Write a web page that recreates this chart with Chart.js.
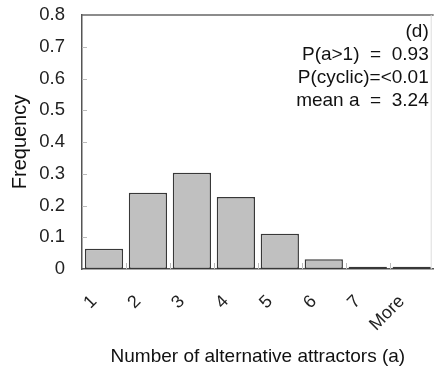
<!DOCTYPE html>
<html>
<head>
<meta charset="utf-8">
<script src="https://cdn.jsdelivr.net/npm/chart.js@4.4.1/dist/chart.umd.min.js"></script>
<style>
  html, body { margin: 0; padding: 0; background: #fff; }
  #grafico { display: block; }
</style>
</head>
<body>
<canvas id="grafico" width="441" height="370"></canvas>
<script>
const categorias = ['1', '2', '3', '4', '5', '6', '7', 'More'];
const frequencias = [0.064, 0.240, 0.303, 0.227, 0.111, 0.031, 0.007, 0.007];
const yTicks = ['0', '0.1', '0.2', '0.3', '0.4', '0.5', '0.6', '0.7', '0.8'];
const notas = ['(d)', 'P(a>1)  =  0.93', 'P(cyclic)=<0.01', 'mean a  =  3.24'];

const fonte = 'Liberation Sans, Arial, sans-serif';

// moldura, marcas internas e o texto no canto
const moldura = {
  id: 'moldura',
  afterDatasetsDraw(chart) {
    const { ctx, chartArea: a, scales } = chart;
    const x = scales.x, y = scales.y;
    ctx.save();
    ctx.strokeStyle = '#666';
    ctx.lineWidth = 1.5;
    ctx.beginPath();
    ctx.moveTo(a.left, a.top);
    ctx.lineTo(a.right, a.top);
    ctx.stroke();
    ctx.strokeStyle = '#ddd';
    ctx.lineWidth = 1;
    ctx.beginPath();
    ctx.moveTo(a.right - 2.5, a.top);
    ctx.lineTo(a.right - 2.5, a.bottom);
    ctx.stroke();

    ctx.strokeStyle = '#bbb';
    yTicks.forEach((_, i) => {
      const py = Math.round(y.getPixelForValue(i / 10)) + 0.5;
      if (i === 0 || i === yTicks.length - 1) return;
      ctx.beginPath();
      ctx.moveTo(a.left, py);
      ctx.lineTo(a.left + 5, py);
      ctx.stroke();
    });
    const meio = (x.getPixelForValue(1) - x.getPixelForValue(0)) / 2;
    for (let i = 1; i < categorias.length; i++) {
      const px = Math.round(x.getPixelForValue(i) - meio) + 0.5;
      ctx.beginPath();
      ctx.moveTo(px, a.bottom);
      ctx.lineTo(px, a.bottom - 6);
      ctx.stroke();
    }

    ctx.fillStyle = '#111';
    ctx.font = '19px ' + fonte;
    ctx.textAlign = 'right';
    ctx.textBaseline = 'middle';
    notas.forEach((t, i) => ctx.fillText(t, a.right - 5, a.top + 17 + i * 23));
    ctx.restore();
  }
};

new Chart(document.getElementById('grafico'), {
  type: 'bar',
  data: {
    labels: categorias,
    datasets: [{
      data: frequencias,
      backgroundColor: '#c0c0c0',
      borderColor: '#383838',
      borderWidth: 1.5,
      borderSkipped: false,
      barPercentage: 0.87,
      categoryPercentage: 1.0
    }]
  },
  options: {
    responsive: false,
    animation: false,
    devicePixelRatio: 1,
    layout: { padding: { top: 15, right: 0, left: 0, bottom: 0 } },
    plugins: { legend: { display: false }, tooltip: { enabled: false } },
    scales: {
      x: {
        grid: { display: false },
        border: { color: '#555', width: 1.5 },
        ticks: {
          color: '#222',
          font: { family: fonte, size: 18 },
          minRotation: 45,
          maxRotation: 45,
          padding: 14,
          labelOffset: -10
        },
        title: {
          display: true,
          text: 'Number of alternative attractors (a)',
          color: '#111',
          font: { family: fonte, size: 19 },
          padding: { top: 0, bottom: 2 }
        },
        afterFit(scale) { scale.height = 101; }
      },
      y: {
        min: 0,
        max: 0.8,
        grid: { display: false },
        border: { color: '#555', width: 1.5 },
        ticks: {
          stepSize: 0.1,
          color: '#222',
          font: { family: fonte, size: 18.5 },
          padding: 9,
          callback: (v, i) => yTicks[i]
        },
        title: {
          display: true,
          text: 'Frequency',
          color: '#111',
          font: { family: fonte, size: 20 },
          padding: { top: 8, bottom: 0 }
        },
        afterFit(scale) {
          scale.width = 82;
          scale.paddingTop = 0;
        }
      }
    }
  },
  plugins: [moldura]
});
</script>
</body>
</html>
